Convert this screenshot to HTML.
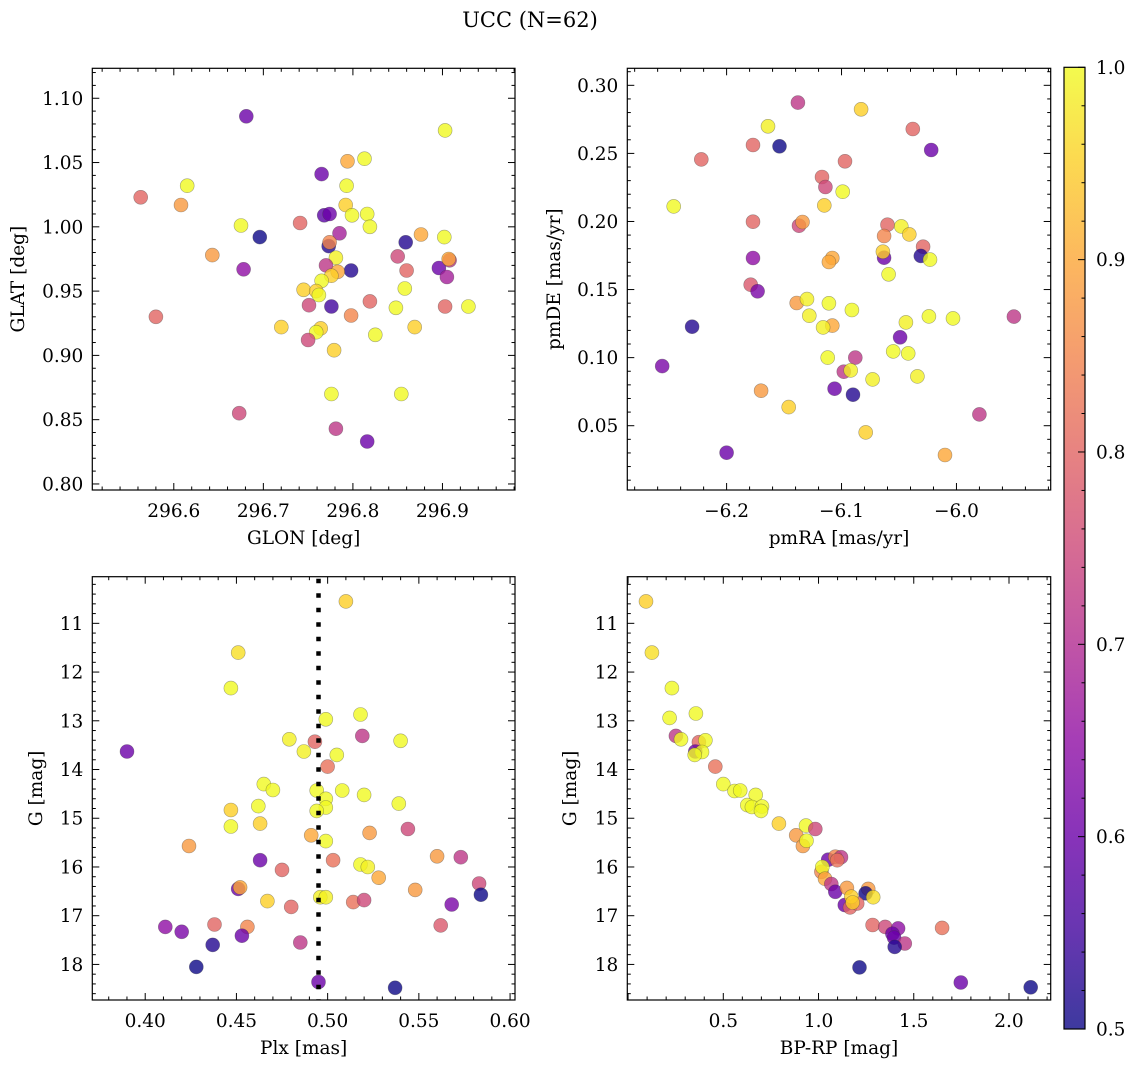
<!DOCTYPE html>
<html><head><meta charset="utf-8"><style>
html,body{margin:0;padding:0;background:#fff;}
svg{display:block;font-family:"DejaVu Serif","Liberation Serif",serif;}
</style></head><body>
<svg id="fig" width="1136" height="1067" viewBox="0 0 1136 1067" xmlns="http://www.w3.org/2000/svg">
<defs>
<linearGradient id="plasma" x1="0" y1="1" x2="0" y2="0">
<stop offset="0" stop-color="#0d0887"/><stop offset="0.1" stop-color="#41049d"/><stop offset="0.2" stop-color="#6a00a8"/><stop offset="0.3" stop-color="#8f0da4"/><stop offset="0.4" stop-color="#b12a90"/><stop offset="0.5" stop-color="#cc4778"/><stop offset="0.6" stop-color="#e16462"/><stop offset="0.7" stop-color="#f2844b"/><stop offset="0.8" stop-color="#fca636"/><stop offset="0.9" stop-color="#fcce25"/><stop offset="1" stop-color="#f0f921"/>
</linearGradient>
</defs>
<text x="530" y="27" text-anchor="middle" font-size="21">UCC (N=62)</text>
</svg>
<script>
// Panel 1: GLON / GLAT
const p1Lon=[296.681,296.903,296.563,296.615,296.608,296.794,296.813,296.765,296.793,296.792,296.799,296.816,296.819,296.768,296.774,296.675,296.741,296.696,296.785,296.773,296.774,296.859,296.876,296.902,296.643,296.678,296.850,296.781,296.770,296.798,296.783,296.776,296.765,296.860,296.896,296.908,296.907,296.905,296.745,296.759,296.762,296.858,296.751,296.776,296.819,296.798,296.848,296.903,296.929,296.580,296.720,296.764,296.759,296.869,296.825,296.750,296.779,296.776,296.854,296.673,296.781,296.816];
const p1Lat=[1.086,1.075,1.023,1.032,1.017,1.051,1.053,1.041,1.032,1.017,1.009,1.010,1.000,1.009,1.010,1.001,1.003,0.992,0.995,0.985,0.988,0.988,0.994,0.992,0.978,0.967,0.977,0.976,0.970,0.966,0.965,0.962,0.958,0.966,0.968,0.974,0.975,0.961,0.951,0.950,0.947,0.952,0.939,0.938,0.942,0.931,0.937,0.938,0.938,0.930,0.922,0.921,0.918,0.922,0.916,0.912,0.904,0.870,0.870,0.855,0.843,0.833];
const p1Prob=[0.6,1.0,0.8,1.0,0.88,0.9,1.0,0.6,1.0,0.95,1.0,1.0,1.0,0.58,0.6,1.0,0.8,0.5,0.68,0.52,0.85,0.52,0.9,1.0,0.88,0.65,0.75,0.99,0.72,0.52,0.9,0.95,1.0,0.8,0.6,0.72,0.9,0.68,0.95,0.95,1.0,1.0,0.75,0.55,0.8,0.85,1.0,0.8,1.0,0.8,0.95,0.95,1.0,0.95,1.0,0.75,0.95,1.0,1.0,0.75,0.72,0.6];
// Panel 2: pmRA / pmDE
const p2PmRA=[-6.138,-6.083,-6.164,-6.038,-6.177,-6.154,-6.022,-6.222,-6.097,-6.117,-6.114,-6.099,-6.246,-6.115,-6.177,-6.137,-6.134,-6.060,-6.048,-6.063,-6.041,-6.029,-6.177,-6.063,-6.064,-6.031,-6.023,-6.108,-6.111,-6.059,-6.179,-6.173,-6.139,-6.130,-6.111,-6.091,-6.128,-6.044,-6.024,-6.003,-5.950,-6.230,-6.108,-6.116,-6.049,-6.055,-6.042,-6.112,-6.088,-6.256,-6.098,-6.092,-6.073,-6.034,-6.170,-6.106,-6.090,-6.146,-5.980,-6.079,-6.200,-6.010];
const p2PmDE=[0.2873,0.2824,0.2699,0.2679,0.2562,0.2552,0.2525,0.2456,0.2442,0.2327,0.2253,0.2219,0.2111,0.2118,0.1998,0.1969,0.1996,0.1976,0.1964,0.1893,0.1905,0.1815,0.1732,0.1734,0.1778,0.1747,0.1720,0.1732,0.1702,0.1612,0.1536,0.1487,0.1401,0.1430,0.1399,0.1350,0.1308,0.1259,0.1303,0.1288,0.1301,0.1227,0.1235,0.1222,0.1149,0.1046,0.1031,0.1000,0.1000,0.0938,0.0897,0.0906,0.0840,0.0862,0.0757,0.0772,0.0728,0.0637,0.0583,0.0451,0.0302,0.0285];
const p2Prob=[0.72,0.95,0.99,0.8,0.8,0.5,0.6,0.8,0.8,0.8,0.75,1.0,1.0,0.95,0.8,0.75,0.88,0.8,0.99,0.85,0.95,0.8,0.65,0.6,0.95,0.52,1.0,0.9,0.9,1.0,0.78,0.62,0.88,0.99,1.0,1.0,0.99,0.99,1.0,1.0,0.72,0.52,0.9,0.99,0.6,1.0,1.0,1.0,0.72,0.62,0.72,0.99,0.99,0.99,0.88,0.6,0.52,0.95,0.72,0.95,0.6,0.9];
// Panel 3: Plx / G
const p3Plx=[0.510,0.451,0.447,0.390,0.499,0.518,0.519,0.540,0.479,0.493,0.487,0.505,0.500,0.465,0.470,0.494,0.508,0.520,0.499,0.539,0.447,0.462,0.499,0.494,0.447,0.463,0.491,0.499,0.424,0.523,0.544,0.560,0.573,0.463,0.475,0.503,0.518,0.522,0.528,0.451,0.452,0.548,0.583,0.584,0.467,0.496,0.499,0.480,0.514,0.520,0.568,0.411,0.420,0.438,0.456,0.453,0.437,0.485,0.562,0.428,0.495,0.537];
const p3G=[10.55,11.6,12.33,13.63,12.97,12.87,13.31,13.41,13.38,13.43,13.63,13.7,13.94,14.3,14.42,14.43,14.43,14.52,14.6,14.7,14.83,14.75,14.78,14.85,15.17,15.11,15.35,15.47,15.57,15.3,15.22,15.78,15.8,15.86,16.06,15.86,15.95,16.0,16.22,16.45,16.42,16.47,16.34,16.57,16.7,16.62,16.62,16.82,16.72,16.68,16.77,17.23,17.33,17.18,17.23,17.41,17.6,17.55,17.2,18.05,18.36,18.48];
const p3Prob=[0.95,0.97,1.0,0.6,1.0,1.0,0.72,1.0,0.99,0.8,0.99,1.0,0.82,1.0,1.0,1.0,1.0,1.0,1.0,1.0,0.95,1.0,1.0,1.0,1.0,0.95,0.9,1.0,0.88,0.88,0.75,0.88,0.72,0.6,0.8,0.82,1.0,0.99,0.9,0.6,0.9,0.88,0.75,0.5,0.95,0.99,0.99,0.8,0.82,0.75,0.62,0.65,0.62,0.8,0.85,0.6,0.52,0.72,0.78,0.5,0.6,0.5];
const plxMean=0.495;
// Panel 4: BP-RP / G
const p4BPRP=[0.094,0.125,0.230,0.218,0.356,0.251,0.278,0.372,0.406,0.353,0.388,0.350,0.458,0.500,0.559,0.589,0.670,0.626,0.650,0.703,0.698,0.792,0.883,0.918,0.934,0.937,0.983,1.051,1.088,1.118,1.098,1.015,1.020,1.034,1.067,1.088,1.149,1.261,1.247,1.287,1.138,1.165,1.203,1.172,1.179,1.284,1.350,1.649,1.418,1.388,1.397,1.453,1.400,1.215,1.747,2.114];
const p4G=[10.55,11.60,12.33,12.94,12.85,13.31,13.38,13.44,13.40,13.63,13.64,13.70,13.94,14.30,14.44,14.43,14.52,14.73,14.77,14.76,14.85,15.11,15.35,15.57,15.15,15.46,15.22,15.85,15.79,15.80,15.86,16.10,16.00,16.24,16.35,16.51,16.43,16.45,16.54,16.62,16.78,16.83,16.75,16.61,16.73,17.19,17.23,17.25,17.26,17.37,17.45,17.57,17.64,18.06,18.37,18.47];
const p4Prob=[0.95,0.97,1.0,1.0,1.0,0.72,1.0,0.8,1.0,0.6,1.0,1.0,0.82,1.0,1.0,1.0,1.0,1.0,1.0,1.0,1.0,0.95,0.88,0.88,1.0,1.0,0.75,0.6,0.85,0.72,0.82,0.85,1.0,0.9,0.72,0.6,0.88,0.88,0.5,0.97,0.6,0.8,0.8,0.95,0.95,0.8,0.75,0.82,0.65,0.6,0.6,0.72,0.52,0.5,0.6,0.5];
const cbTicks=[0.5,0.6,0.7,0.8,0.9,1.0];

const NS="http://www.w3.org/2000/svg";
const svg=document.getElementById('fig');
const stops=[[0,[13,8,135]],[0.1,[65,4,157]],[0.2,[106,0,168]],[0.3,[143,13,164]],[0.4,[177,42,144]],[0.5,[204,71,120]],[0.6,[225,100,98]],[0.7,[242,132,75]],[0.8,[252,166,54]],[0.9,[252,206,37]],[1,[240,249,33]]];
function plasma(v){let t=(v-0.5)/0.5;t=Math.max(0,Math.min(1,t));
 for(let i=0;i<stops.length-1;i++){const a=stops[i],b=stops[i+1];if(t<=b[0]){const f=(t-a[0])/(b[0]-a[0]);return 'rgb('+a[1].map((c,k)=>Math.round(c+(b[1][k]-c)*f)).join(',')+')';}}
 return 'rgb(240,249,33)';}
function mk(tag,attrs,parent){const e=document.createElementNS(NS,tag);for(const k in attrs)e.setAttribute(k,attrs[k]);(parent||svg).appendChild(e);return e;}
function fmt(v,d){return (v<0?'\u2212':'')+Math.abs(v).toFixed(d);}
const FS=18.5;

function panel(cfg){
 const g=mk('g',{});
 
 
 const L=cfg.l,R=cfg.r,T=cfg.t,B=cfg.b;
 const sx=v=>L+(v-cfg.xd[0])/(cfg.xd[1]-cfg.xd[0])*(R-L);
 const sy=cfg.inv?(v=>T+(v-cfg.yd[0])/(cfg.yd[1]-cfg.yd[0])*(B-T)):(v=>B-(v-cfg.yd[0])/(cfg.yd[1]-cfg.yd[0])*(B-T));
 const pts=mk('g',{},g);
 
 
 for(let i=0;i<cfg.xs.length;i++){
  const c=mk('circle',{cx:sx(cfg.xs[i]).toFixed(1),cy:sy(cfg.ys[i]).toFixed(1),r:7,fill:plasma(cfg.cs[i]),'fill-opacity':0.8,stroke:'rgba(60,60,60,0.45)','stroke-width':0.6},pts);
  
  
 }
 if(cfg.vline!==undefined){
  const x=sx(cfg.vline);
  const ln=mk('line',{x1:x,x2:x,y1:T+2,y2:B,stroke:'#000','stroke-width':4.5,'stroke-dasharray':'4.5 10'},g);
  
  
 }
 const fr=mk('rect',{x:L,y:T,width:R-L,height:B-T,fill:'none',stroke:'#000','stroke-width':1.2},g);
 
 
 const tk=mk('g',{stroke:'#000','stroke-width':1},g);
 const eps=1e-9;
 const st=Math.ceil(cfg.xd[0]/cfg.xmin-eps);
 for(let k=st;k*cfg.xmin<=cfg.xd[1]+eps;k++){const v=k*cfg.xmin;const x=sx(v);if(x<L||x>R)continue;
  const maj=Math.abs(v/cfg.xmaj-Math.round(v/cfg.xmaj))<1e-6;const len=maj?7:3.5;
  mk('line',{x1:x,x2:x,y1:B,y2:B-len},tk);mk('line',{x1:x,x2:x,y1:T,y2:T+len},tk);}
 const sty=Math.ceil(cfg.yd[0]/cfg.ymin-eps);
 for(let k=sty;k*cfg.ymin<=cfg.yd[1]+eps;k++){const v=k*cfg.ymin;const y=sy(v);if(y<T||y>B)continue;
  const maj=Math.abs(v/cfg.ymaj-Math.round(v/cfg.ymaj))<1e-6;const len=maj?7:3.5;
  mk('line',{x1:L,x2:L+len,y1:y,y2:y},tk);mk('line',{x1:R,x2:R-len,y1:y,y2:y},tk);}
 cfg.xt.forEach(v=>{const t=mk('text',{x:sx(v),y:B+27,'text-anchor':'middle','font-size':FS},g);t.textContent=fmt(v,cfg.xdp);
  
  });
 cfg.yt.forEach(v=>{const t=mk('text',{x:L-9,y:sy(v)+6.5,'text-anchor':'end','font-size':FS},g);t.textContent=fmt(v,cfg.ydp);
  
  });
 const xl=mk('text',{x:(L+R)/2,y:B+54,'text-anchor':'middle','font-size':FS},g);xl.textContent=cfg.xlab;
 
 
 const yx=cfg.ylx,yy=(T+B)/2;
 const yl=mk('text',{x:yx,y:yy,'text-anchor':'middle','font-size':FS,transform:'rotate(-90 '+yx+' '+yy+')'},g);yl.textContent=cfg.ylab;
 
 
}

panel({name:'glon-glat-panel',l:92.3,r:515,t:68.3,b:490,xd:[296.509,296.981],yd:[0.7953,1.1233],xs:p1Lon,ys:p1Lat,cs:p1Prob,
 xmaj:0.1,xmin:0.02,ymaj:0.05,ymin:0.01,xt:[296.6,296.7,296.8,296.9],yt:[0.80,0.85,0.90,0.95,1.00,1.05,1.10],xdp:1,ydp:2,xlab:'GLON [deg]',ylab:'GLAT [deg]',ylx:24});
panel({name:'pm-panel',l:627.3,r:1050.7,t:68.3,b:490,xd:[-6.2864,-5.918],yd:[0.00278,0.3125],xs:p2PmRA,ys:p2PmDE,cs:p2Prob,
 xmaj:0.1,xmin:0.02,ymaj:0.05,ymin:0.01,xt:[-6.2,-6.1,-6.0],yt:[0.05,0.10,0.15,0.20,0.25,0.30],xdp:1,ydp:2,xlab:'pmRA [mas/yr]',ylab:'pmDE [mas/yr]',ylx:560});
panel({name:'plx-g-panel',l:92.3,r:515,t:576.7,b:1000,xd:[0.371,0.6027],yd:[10.043,18.73],inv:true,xs:p3Plx,ys:p3G,cs:p3Prob,vline:plxMean,
 xmaj:0.05,xmin:0.01,ymaj:1,ymin:0.2,xt:[0.40,0.45,0.50,0.55,0.60],yt:[11,12,13,14,15,16,17,18],xdp:2,ydp:0,xlab:'Plx [mas]',ylab:'G [mag]',ylx:42});
panel({name:'cmd-panel',l:627.3,r:1050.7,t:576.7,b:1000,xd:[-0.004,2.219],yd:[10.043,18.73],inv:true,xs:p4BPRP,ys:p4G,cs:p4Prob,
 xmaj:0.5,xmin:0.1,ymaj:1,ymin:0.2,xt:[0.5,1.0,1.5,2.0],yt:[11,12,13,14,15,16,17,18],xdp:1,ydp:0,xlab:'BP-RP [mag]',ylab:'G [mag]',ylx:576});

const cb=mk('g',{});


const cbT=67.3,cbB=1029,cbL=1064,cbR=1085;
mk('rect',{x:cbL,y:cbT,width:cbR-cbL,height:cbB-cbT,fill:'url(#plasma)','fill-opacity':0.8},cb);
mk('rect',{x:cbL,y:cbT,width:cbR-cbL,height:cbB-cbT,fill:'none',stroke:'#000','stroke-width':1.2},cb);
const cy=v=>cbB-(v-0.5)/0.5*(cbB-cbT);
for(let k=25;k<=50;k++){const v=k*0.02;const y=cy(v);const maj=(k%5===0);
 mk('line',{x1:cbR,x2:cbR-(maj?7:3.5),y1:y,y2:y,stroke:'#000','stroke-width':1},cb);}
cbTicks.forEach(v=>{const t=mk('text',{x:1096,y:cy(v)+6.5,'font-size':FS},cb);t.textContent=v.toFixed(1);
 
 });
</script>
</body></html>
